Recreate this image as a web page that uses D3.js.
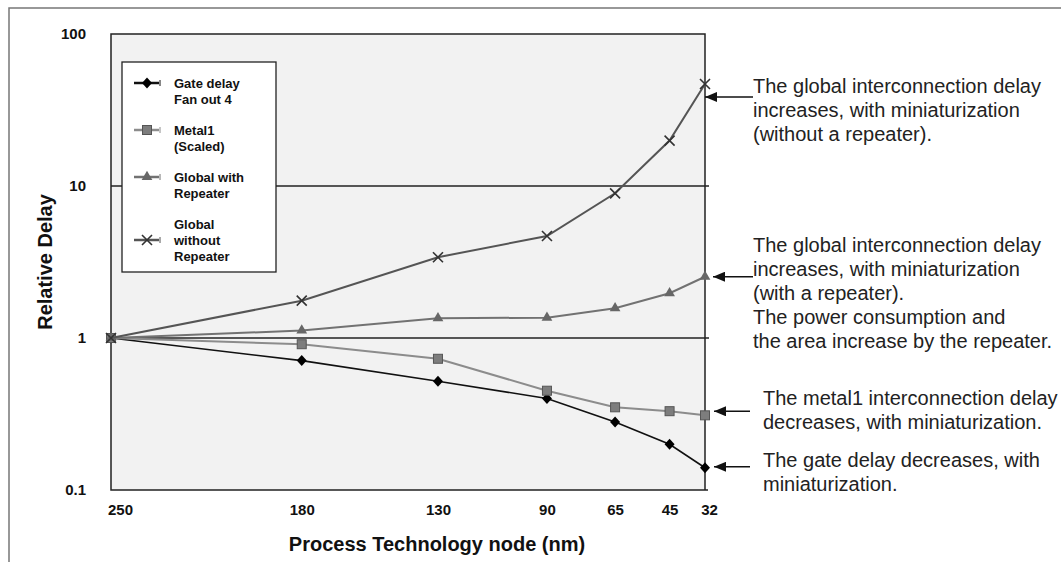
<!DOCTYPE html>
<html lang="en">

<head>
    <meta charset="UTF-8">
    <title>Relative Delay vs Process Technology node</title>
    <script src="https://cdn.jsdelivr.net/npm/d3@7/dist/d3.min.js"></script>
    <style>
        * {
            margin: 0;
            padding: 0;
        }

        body {
            background: #fff;
        }

        text {
            font-family: "Liberation Sans", Arial, Helvetica, sans-serif;
        }
    </style>
</head>

<body>
</body>
<script>
    const width = 1061
    const height = 562

    // data
    const nodes = [250, 180, 130, 90, 65, 45, 32]
    const gateDelay = [1, 0.71, 0.52, 0.40, 0.28, 0.20, 0.14]
    const metal1 = [1, 0.91, 0.73, 0.45, 0.35, 0.33, 0.31]
    const globalRepeater = [1, 1.12, 1.35, 1.36, 1.57, 1.97, 2.53]
    const globalNoRepeater = [1, 1.76, 3.40, 4.69, 8.95, 19.9, 46.9]
    const yTicks = [0.1, 1, 10, 100]
    const yTickLabels = ['0.1', '1', '10', '100']
    const legendLabels = [
        ['Gate delay', 'Fan out 4'],
        ['Metal1', '(Scaled)'],
        ['Global with', 'Repeater'],
        ['Global', 'without', 'Repeater']
    ]
    const notes = [
        ['The global interconnection delay', 'increases, with miniaturization', '(without a repeater).'],
        ['The global interconnection delay', 'increases, with miniaturization', '(with a repeater).', 'The power consumption and', 'the area increase by the repeater.'],
        ['The metal1 interconnection delay', 'decreases, with miniaturization.'],
        ['The gate delay decreases, with', 'miniaturization.']
    ]

    const seriesList = [
        { values: gateDelay, line: '#111', lw: 1.6, marker: 'diamond', fill: '#000', stroke: '#000' },
        { values: metal1, line: '#8c8c8c', lw: 2, marker: 'square', fill: '#7d7d7d', stroke: '#555' },
        { values: globalRepeater, line: '#727272', lw: 2, marker: 'triangle', fill: '#676767', stroke: '#676767' },
        { values: globalNoRepeater, line: '#555', lw: 2, marker: 'cross', fill: 'none', stroke: '#333' }
    ]

    const plot = { left: 111, right: 705, top: 34, bottom: 490 }

    const svg = d3.select('body')
        .append('svg')
        .attr('width', width)
        .attr('height', height)

    const xScale = d3.scaleLinear()
        .domain([nodes[0], nodes[nodes.length - 1]])
        .range([plot.left, plot.right])

    const yScale = d3.scaleLog()
        .domain([0.1, 100])
        .range([plot.bottom, plot.top])

    // outer frame (top + left only visible)
    svg.append('path')
        .attr('d', 'M9,' + height + 'V8H' + width)
        .attr('fill', 'none')
        .attr('stroke', '#777')
        .attr('stroke-width', 1.5)

    // plot background
    svg.append('rect')
        .attr('x', plot.left)
        .attr('y', plot.top)
        .attr('width', plot.right - plot.left)
        .attr('height', plot.bottom - plot.top)
        .attr('fill', '#f2f2f2')

    // grid lines at the inner decades
    svg.selectAll('.grid')
        .data(yTicks.slice(1, 3))
        .enter()
        .append('line')
        .attr('class', 'grid')
        .attr('x1', plot.left)
        .attr('x2', plot.right + 4)
        .attr('y1', d => yScale(d))
        .attr('y2', d => yScale(d))
        .attr('stroke', '#222')
        .attr('stroke-width', 1.3)

    // plot box
    svg.append('path')
        .attr('d', 'M' + (plot.right + 3) + ',' + plot.bottom + 'H' + plot.left + 'V' + plot.top + 'H' + plot.right + 'V' + plot.bottom)
        .attr('fill', 'none')
        .attr('stroke', '#222')
        .attr('stroke-width', 1.5)

    // y axis labels
    const yAxis = d3.axisLeft(yScale)
        .tickValues(yTicks)
        .tickFormat((d, i) => yTickLabels[i])
        .tickSize(0)
        .tickPadding(25)

    const yg = svg.append('g')
        .attr('transform', 'translate(' + plot.left + ',0)')
        .call(yAxis)
    yg.select('.domain').remove()
    yg.selectAll('text')
        .attr('font-size', 15)
        .attr('font-weight', 'bold')
        .attr('fill', '#111')
        .attr('font-family', '"Liberation Sans", Arial, sans-serif')

    // x axis labels
    const xAxis = d3.axisBottom(xScale)
        .tickValues(nodes)
        .tickFormat(d => d)
        .tickSize(0)
        .tickPadding(14)

    const xg = svg.append('g')
        .attr('transform', 'translate(0,' + plot.bottom + ')')
        .call(xAxis)
    xg.select('.domain').remove()
    xg.selectAll('text')
        .attr('font-size', 15)
        .attr('font-weight', 'bold')
        .attr('fill', '#111')
        .attr('dx', (d, i) => i === 0 ? 9 : (i === nodes.length - 1 ? 4 : 0))
        .attr('font-family', '"Liberation Sans", Arial, sans-serif')

    // axis titles
    svg.append('text')
        .attr('x', 437)
        .attr('y', 551)
        .attr('text-anchor', 'middle')
        .attr('font-size', 20)
        .attr('font-weight', 'bold')
        .attr('fill', '#111')
        .text('Process Technology node (nm)')

    svg.append('text')
        .attr('transform', 'translate(52,262) rotate(-90)')
        .attr('text-anchor', 'middle')
        .attr('font-size', 20)
        .attr('font-weight', 'bold')
        .attr('fill', '#111')
        .text('Relative Delay')

    // marker drawing
    function drawMarker(g, type, fill, stroke) {
        if (type === 'diamond') {
            g.append('path').attr('d', 'M0,-5.5L5,0L0,5.5L-5,0Z')
                .attr('fill', fill)
        } else if (type === 'square') {
            g.append('rect').attr('x', -4.5).attr('y', -4.5).attr('width', 9).attr('height', 9)
                .attr('fill', fill).attr('stroke', stroke).attr('stroke-width', 1)
        } else if (type === 'triangle') {
            g.append('path').attr('d', d3.symbol(d3.symbolTriangle, 50)())
                .attr('fill', fill)
        } else if (type === 'cross') {
            g.append('path').attr('d', 'M-5,-5L5,5M-5,5L5,-5')
                .attr('stroke', stroke).attr('stroke-width', 1.6).attr('fill', 'none')
        }
    }

    const line = d3.line()
        .x((d, i) => xScale(nodes[i]))
        .y(d => yScale(d))

    seriesList.forEach(s => {
        svg.append('path')
            .datum(s.values)
            .attr('d', line)
            .attr('fill', 'none')
            .attr('stroke', s.line)
            .attr('stroke-width', s.lw)

        svg.selectAll(null)
            .data(s.values)
            .enter()
            .append('g')
            .attr('transform', (d, i) => 'translate(' + xScale(nodes[i]) + ',' + yScale(d) + ')')
            .each(function () {
                drawMarker(d3.select(this), s.marker, s.fill, s.stroke)
            })
    })

    // legend
    const legend = svg.append('g')
    legend.append('rect')
        .attr('x', 122)
        .attr('y', 62)
        .attr('width', 154)
        .attr('height', 210)
        .attr('fill', '#fff')
        .attr('stroke', '#222')
        .attr('stroke-width', 1.3)

    let base = 88
    legendLabels.forEach((lines, k) => {
        const s = seriesList[k]
        const sy = base + Math.floor((lines.length - 1) / 2) * 16 - 5
        legend.append('line')
            .attr('x1', 134).attr('x2', 159)
            .attr('y1', sy).attr('y2', sy)
            .attr('stroke', s.line).attr('stroke-width', 2.5)
        legend.append('line')
            .attr('x1', 160).attr('x2', 160)
            .attr('y1', sy - 3).attr('y2', sy + 3)
            .attr('stroke', s.line).attr('stroke-width', 1)
        drawMarker(legend.append('g').attr('transform', 'translate(147,' + sy + ')'), s.marker, s.fill, s.stroke)

        const t = legend.append('text')
            .attr('x', 174)
            .attr('y', base)
            .attr('font-size', 13)
            .attr('font-weight', 'bold')
            .attr('fill', '#111')
        t.selectAll('tspan')
            .data(lines)
            .enter()
            .append('tspan')
            .attr('x', 174)
            .attr('dy', (d, i) => i === 0 ? 0 : 16)
            .text(d => d)
        base += lines.length * 16 + 15
    })

    // annotations with arrows
    const noteSeries = [globalNoRepeater, globalRepeater, metal1, gateDelay]
    const noteLayout = [
        { tip: 705, tail: 753, dy: 13, tx: 753, line0: -4 },
        { tip: 713, tail: 753, dy: 0, tx: 753, line0: -25 },
        { tip: 714, tail: 750, dy: -4, tx: 763, line0: -6 },
        { tip: 714, tail: 750, dy: -1, tx: 763, line0: 0 }
    ]

    svg.append('defs').append('marker')
        .attr('id', 'arrow')
        .attr('viewBox', '0 0 12 10')
        .attr('refX', 0)
        .attr('refY', 5)
        .attr('markerWidth', 12)
        .attr('markerHeight', 10)
        .attr('markerUnits', 'userSpaceOnUse')
        .attr('orient', 'auto')
        .append('path')
        .attr('d', 'M0,5L12,0L12,10Z')
        .attr('fill', '#111')

    notes.forEach((lines, k) => {
        const L = noteLayout[k]
        const vals = noteSeries[k]
        const ay = yScale(vals[vals.length - 1]) + L.dy

        svg.append('line')
            .attr('x1', L.tip)
            .attr('x2', L.tail)
            .attr('y1', ay)
            .attr('y2', ay)
            .attr('stroke', '#111')
            .attr('stroke-width', 1.5)
            .attr('marker-start', 'url(#arrow)')

        const t = svg.append('text')
            .attr('x', L.tx)
            .attr('y', ay + L.line0)
            .attr('font-size', 20)
            .attr('fill', '#222')
        t.selectAll('tspan')
            .data(lines)
            .enter()
            .append('tspan')
            .attr('x', L.tx)
            .attr('dy', (d, i) => i === 0 ? 0 : 24)
            .text(d => d)
    })
</script>

</html>
